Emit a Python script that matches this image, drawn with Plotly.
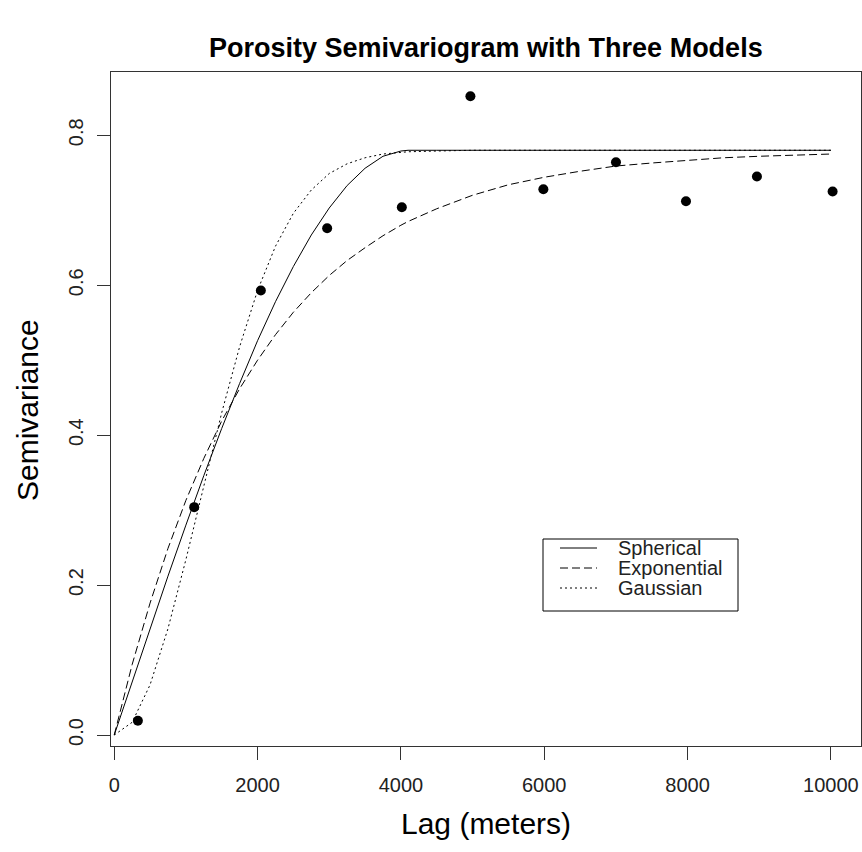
import plotly.graph_objects as go

# ---- data ----
lag_points = [330, 1116, 2046, 2971, 4013, 4970, 5988, 7001, 7978, 8968, 10024]
semivariance = [0.019, 0.304, 0.593, 0.676, 0.704, 0.852, 0.728, 0.764, 0.712, 0.745, 0.725]

model_lag = [0, 250, 500, 750, 1000, 1250, 1500, 1750, 2000, 2250, 2500, 2750, 3000,
             3250, 3500, 3750, 4000, 4100, 4500, 5000, 5500, 6000, 6500, 7000, 7500,
             8000, 8500, 9000, 9500, 10000]
spherical = [0.0, 0.071, 0.142, 0.212, 0.280, 0.346, 0.409, 0.469, 0.526, 0.578, 0.625,
             0.667, 0.703, 0.733, 0.756, 0.772, 0.779, 0.780, 0.780, 0.780, 0.780, 0.780,
             0.780, 0.780, 0.780, 0.780, 0.780, 0.780, 0.780, 0.780]
exponential = [0.0, 0.094, 0.176, 0.249, 0.313, 0.369, 0.419, 0.462, 0.500, 0.534, 0.564,
               0.590, 0.613, 0.633, 0.650, 0.666, 0.680, 0.685, 0.702, 0.720, 0.734, 0.744,
               0.752, 0.759, 0.763, 0.767, 0.770, 0.772, 0.774, 0.775]
gaussian = [0.0, 0.017, 0.067, 0.142, 0.234, 0.333, 0.430, 0.518, 0.593, 0.652, 0.696,
            0.727, 0.749, 0.762, 0.770, 0.775, 0.777, 0.778, 0.779, 0.780, 0.780, 0.780,
            0.780, 0.780, 0.780, 0.780, 0.780, 0.780, 0.780, 0.780]

x_ticks = [0, 2000, 4000, 6000, 8000, 10000]
x_tick_labels = ["0", "2000", "4000", "6000", "8000", "10000"]
y_ticks = [0.0, 0.2, 0.4, 0.6, 0.8]
y_tick_labels = ["0.0", "0.2", "0.4", "0.6", "0.8"]

series_names = ["Spherical", "Exponential", "Gaussian"]
series_dash = ["solid", "8px,4px", "2px,3px"]

FONT = "Liberation Sans, Arial, Helvetica, sans-serif"

fig = go.Figure()
fig.add_trace(go.Scatter(x=lag_points, y=semivariance, mode="markers",
                         marker=dict(color="black", size=10, symbol="circle"),
                         showlegend=False))
for name, vals, dash in zip(series_names, [spherical, exponential, gaussian], series_dash):
    fig.add_trace(go.Scatter(x=model_lag, y=vals, mode="lines", name=name,
                             line=dict(color="black", width=1, dash=dash),
                             showlegend=False))

axis_common = dict(showgrid=False, zeroline=False, showline=True, mirror=True,
                   linecolor="#333", linewidth=1, ticks="outside", ticklen=13,
                   tickcolor="#333", tickwidth=1,
                   tickfont=dict(family=FONT, size=20, color="#222"))

fig.update_xaxes(range=[-45, 10420], tickvals=x_ticks, ticktext=x_tick_labels,
                 ticklabelstandoff=8, **axis_common)
fig.update_yaxes(range=[-0.0146, 0.8844], tickvals=y_ticks, ticktext=y_tick_labels,
                 tickangle=-90, ticklabelstandoff=6, **axis_common)

annotations = [
    dict(text="<b>Porosity Semivariogram with Three Models</b>", x=0.5, y=1.0356,
         xref="paper", yref="paper", xanchor="center", yanchor="middle", showarrow=False,
         font=dict(family=FONT, size=27, color="black")),
    dict(text="Lag (meters)", x=0.5, y=-0.1157, xref="paper", yref="paper",
         xanchor="center", yanchor="middle", showarrow=False,
         font=dict(family=FONT, size=30, color="black")),
    dict(text="Semivariance", x=-0.112, y=0.4985, xref="paper", yref="paper",
         xanchor="center", yanchor="middle", showarrow=False, textangle=-90,
         font=dict(family=FONT, size=30, color="black")),
]

# manual legend (box, samples, labels) in paper coordinates
plot_l, plot_r, plot_t, plot_b = 111, 861, 72, 746
def px(xp):
    return (xp - plot_l) / (plot_r - plot_l)
def py(yp):
    return (plot_b - yp) / (plot_b - plot_t)

shapes = [dict(type="rect", xref="paper", yref="paper", x0=px(543), x1=px(738),
               y0=py(611), y1=py(539), line=dict(color="black", width=1),
               fillcolor="white", layer="above")]
legend_rows = [548, 568, 588]
for name, dash, yrow in zip(series_names, series_dash, legend_rows):
    shapes.append(dict(type="line", xref="paper", yref="paper", x0=px(560), x1=px(597),
                       y0=py(yrow), y1=py(yrow),
                       line=dict(color="black", width=1, dash=dash), layer="above"))
    annotations.append(dict(text=name, x=px(616), y=py(yrow), xref="paper", yref="paper",
                            xanchor="left", yanchor="middle", showarrow=False,
                            font=dict(family=FONT, size=20, color="#222")))

fig.update_layout(width=862, height=852, margin=dict(l=111, r=1, t=72, b=106),
                  plot_bgcolor="white", paper_bgcolor="white",
                  annotations=annotations, shapes=shapes, showlegend=False)

fig.write_html("out.html", config={"displayModeBar": False},
               post_script="document.body.style.margin='0';document.body.style.overflow='hidden';")
